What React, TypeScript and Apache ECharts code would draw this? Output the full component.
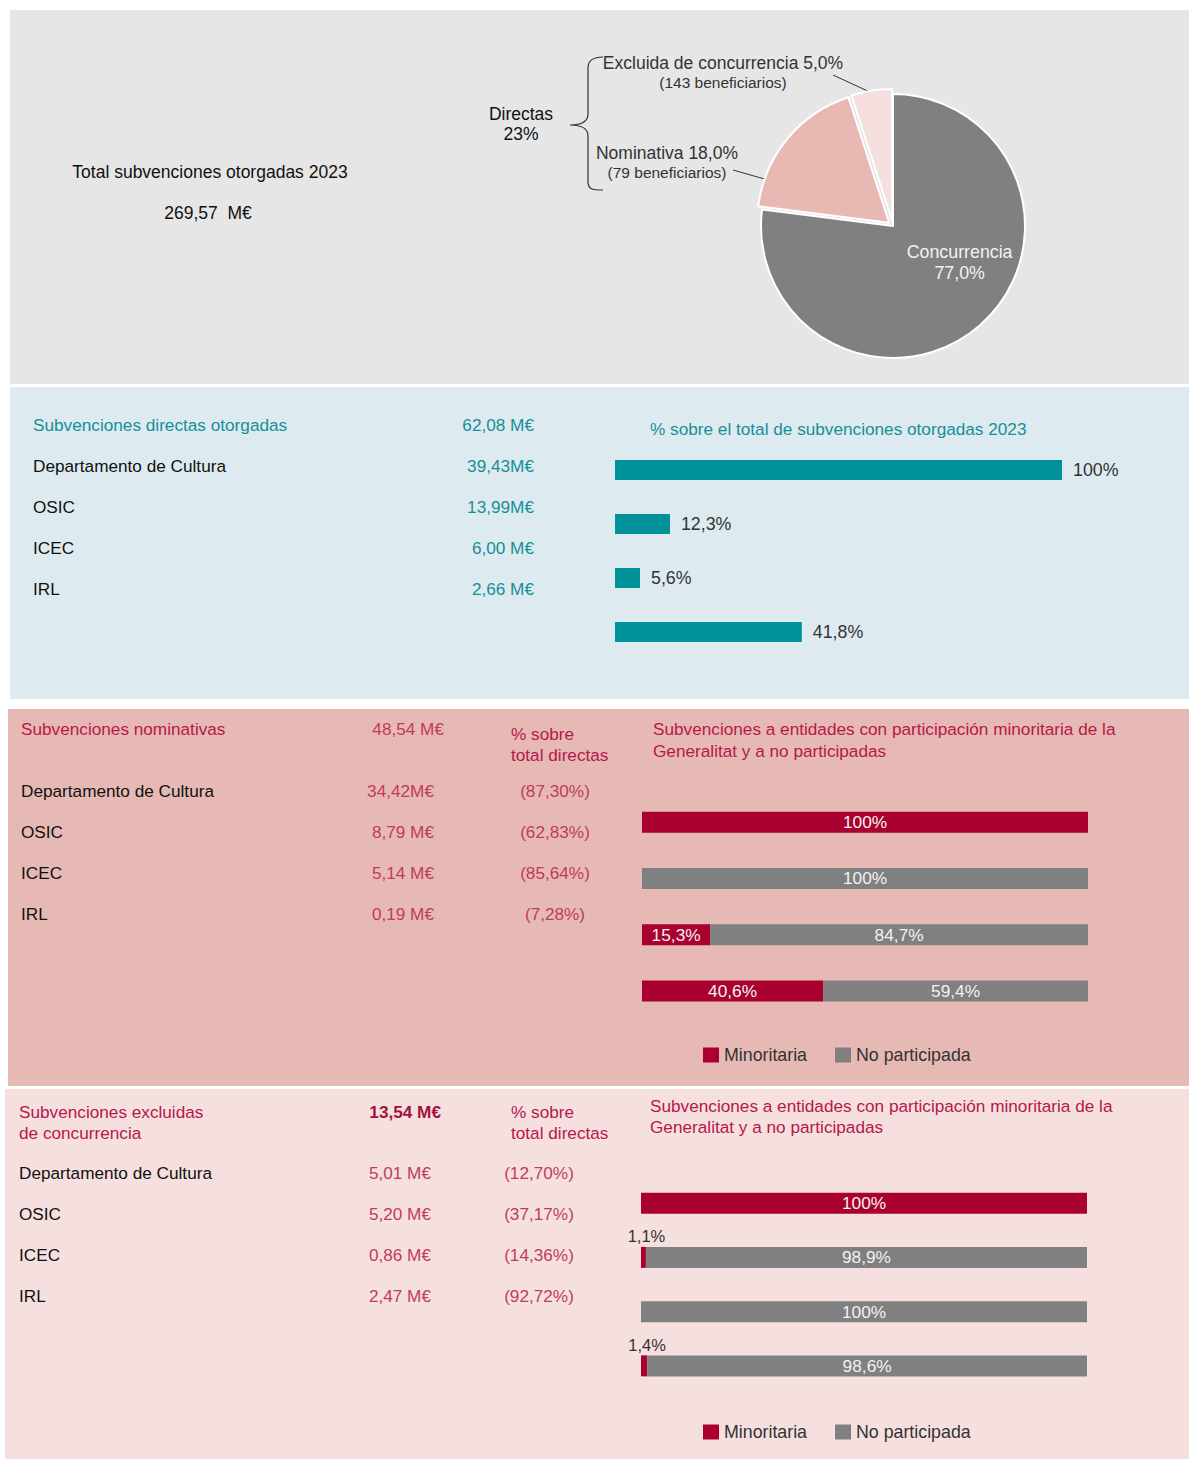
import React, { useEffect, useRef } from "react";
import * as echarts from "echarts";

// ---------- DATA ----------
const totalLabel = "Total subvenciones otorgadas 2023";
const totalAmount = "269,57  M€";

const pieCategories = ["Concurrencia", "Nominativa", "Excluida de concurrencia"];
const pieValues = [77.0, 18.0, 5.0];
const pieBeneficiarios = [0, 79, 143];
const directasShare = "23%";

const entities = ["Departamento de Cultura", "OSIC", "ICEC", "IRL"];

const directTitle = "Subvenciones directas otorgadas";
const directTotal = "62,08 M€";
const directAmounts = ["39,43M€", "13,99M€", "6,00 M€", "2,66 M€"];
const directChartTitle = "% sobre el total de subvenciones otorgadas 2023";
const directBarCats = ["a", "b", "c", "d"];
const directShareValues = [100, 12.3, 5.6, 41.8];

const nomTitle = "Subvenciones nominativas";
const nomTotal = "48,54 M€";
const nomAmounts = ["34,42M€", "8,79 M€", "5,14 M€", "0,19 M€"];
const nomShares = ["(87,30%)", "(62,83%)", "(85,64%)", "(7,28%)"];
const nomMinoritaria = [100, 0, 15.3, 40.6];
const nomNoParticipada = [0, 100, 84.7, 59.4];

const excTitle = ["Subvenciones excluidas", "de concurrencia"];
const excTotal = "13,54 M€";
const excAmounts = ["5,01 M€", "5,20 M€", "0,86 M€", "2,47 M€"];
const excShares = ["(12,70%)", "(37,17%)", "(14,36%)", "(92,72%)"];
const excMinoritaria = [100, 1.1, 0, 1.4];
const excNoParticipada = [0, 98.9, 100, 98.6];

const partTitle = ["Subvenciones a entidades con participación minoritaria de la", "Generalitat y a no participadas"];
const legendNames = ["Minoritaria", "No participada"];
const pctHeader = ["% sobre", "total directas"];

// ---------- STYLE ----------
const FONT = "'Liberation Sans', Arial, sans-serif";
const FS = 17.2;
const TEAL = "#009199";
const TEAL_TXT = "#168f97";
const CRIMSON = "#a90030";
const CRIMSON_TXT = "#b8174a";
const CRIMSON_VAL = "#c03c5c";
const GREY = "#808080";
const DARK = "#111111";

const fmtPct = (v: number) => (v === 100 ? "100%" : v.toFixed(1).replace(".", ",") + "%");

function txt(x: number, y: number, text: string, fill: string, size = FS, align = "left", weight = "normal") {
  return {
    type: "text",
    x,
    y,
    silent: true,
    style: { text, fill, fontSize: size, fontFamily: FONT, fontWeight: weight, align, verticalAlign: "middle" },
  };
}

let braceRegistered = false;
function registerBrace() {
  if (braceRegistered) return;
  const d =
    "M603,57 C594,57 588,60 588,68 L588,114 C588,122 582,125 570,125 C582,125 588,128 588,136 L588,182 C588,190 594,190 603,190";
  echarts.graphic.registerShape("brace", echarts.graphic.extendPath(d, {}) as any);
  braceRegistered = true;
}

function segData(vals: number[]) {
  return vals.map((v) => {
    if (!v) return null;
    if (v < 5) {
      return {
        value: v,
        label: { show: true, position: "top", distance: 2, offset: [3, 0], color: "#333", fontSize: 16.5 },
      };
    }
    return { value: v };
  });
}

export default function App() {
  const ref = useRef<HTMLDivElement>(null);
  useEffect(() => {
    if (!ref.current) return;
    registerBrace();
    const chart = echarts.init(ref.current, undefined, { renderer: "svg" });

    const graphics: any[] = [
      { type: "rect", shape: { x: 10, y: 10, width: 1179, height: 374 }, style: { fill: "#e6e6e6" }, silent: true, z: -10 },
      { type: "rect", shape: { x: 10, y: 387, width: 1179, height: 312 }, style: { fill: "#ddebf0" }, silent: true, z: -10 },
      { type: "rect", shape: { x: 8, y: 709, width: 1181, height: 377 }, style: { fill: "#e6b9b4" }, silent: true, z: -10 },
      { type: "rect", shape: { x: 5, y: 1089, width: 1184, height: 370 }, style: { fill: "#f5e0df" }, silent: true, z: -10 },

      // top panel
      txt(210, 172, totalLabel, DARK, 17.5, "center"),
      txt(208, 213, totalAmount, DARK, 17.5, "center"),
      txt(521, 114, "Directas", DARK, 17.5, "center"),
      txt(521, 134, directasShare, DARK, 17.5, "center"),
      { type: "brace", style: { stroke: "#333", fill: "none", lineWidth: 1.2 }, silent: true },
      txt(723, 63, `${pieCategories[2]} ${pieValues[2].toFixed(1).replace(".", ",")}%`, "#333", 17.5, "center"),
      txt(723, 82, `(${pieBeneficiarios[2]} beneficiarios)`, "#333", 15.5, "center"),
      { type: "line", shape: { x1: 833, y1: 75, x2: 872, y2: 93 }, style: { stroke: "#333", lineWidth: 1 }, silent: true },
      txt(667, 153, `${pieCategories[1]} ${pieValues[1].toFixed(1).replace(".", ",")}%`, "#333", 17.5, "center"),
      txt(667, 172, `(${pieBeneficiarios[1]} beneficiarios)`, "#333", 15.5, "center"),
      { type: "line", shape: { x1: 733, y1: 170, x2: 768, y2: 180 }, style: { stroke: "#333", lineWidth: 1 }, silent: true },

      // blue panel
      txt(33, 425, directTitle, TEAL_TXT),
      txt(534, 425, directTotal, TEAL_TXT, FS, "right"),
      txt(650, 429, directChartTitle, TEAL_TXT),

      // pink panel
      txt(21, 729, nomTitle, CRIMSON_TXT),
      txt(444, 729, nomTotal, CRIMSON_VAL, FS, "right"),
      txt(511, 734, pctHeader[0], CRIMSON_TXT),
      txt(511, 755, pctHeader[1], CRIMSON_TXT),
      txt(653, 729, partTitle[0], CRIMSON_TXT),
      txt(653, 751, partTitle[1], CRIMSON_TXT),

      // light pink panel
      txt(19, 1112, excTitle[0], CRIMSON_TXT),
      txt(19, 1133, excTitle[1], CRIMSON_TXT),
      txt(441, 1112, excTotal, "#a3123f", FS, "right", "bold"),
      txt(511, 1112, pctHeader[0], CRIMSON_TXT),
      txt(511, 1133, pctHeader[1], CRIMSON_TXT),
      txt(650, 1106, partTitle[0], CRIMSON_TXT),
      txt(650, 1127, partTitle[1], CRIMSON_TXT),
    ];

    entities.forEach((e, i) => {
      graphics.push(txt(33, 466 + i * 41, e, DARK));
      graphics.push(txt(534, 466 + i * 41, directAmounts[i], TEAL_TXT, FS, "right"));
      graphics.push(txt(21, 791 + i * 41, e, DARK));
      graphics.push(txt(434, 791 + i * 41, nomAmounts[i], CRIMSON_VAL, FS, "right"));
      graphics.push(txt(555, 791 + i * 41, nomShares[i], CRIMSON_VAL, FS, "center"));
      graphics.push(txt(19, 1173 + i * 41, e, DARK));
      graphics.push(txt(431, 1173 + i * 41, excAmounts[i], CRIMSON_VAL, FS, "right"));
      graphics.push(txt(539, 1173 + i * 41, excShares[i], CRIMSON_VAL, FS, "center"));
    });

    const insideLabel = {
      show: true,
      position: "inside",
      color: "#f2f2f2",
      fontSize: 17.3,
      fontFamily: FONT,
      formatter: (p: any) => fmtPct(p.value),
    };

    const pieData = pieCategories.map((name, i) => {
      if (i === 0) {
        return {
          name,
          value: pieValues[i],
          itemStyle: { color: GREY },
          label: {
            show: true,
            position: "inside",
            offset: [21, -15],
            formatter: `${name}\n${pieValues[i].toFixed(1).replace(".", ",")}%`,
            color: "#f2f2f2",
            fontSize: 17.8,
            lineHeight: 21,
            fontFamily: FONT,
          },
        };
      }
      return {
        name,
        value: pieValues[i],
        selected: true,
        itemStyle: { color: i === 1 ? "#e8b8b3" : "#f5e0df" },
        label: { show: false },
      };
    });

    const legendBase = {
      data: legendNames,
      left: 703,
      padding: 0,
      itemWidth: 16,
      itemHeight: 15,
      itemGap: 28,
      icon: "rect",
      selectedMode: false,
      textStyle: { fontSize: 17.8, color: "#333", fontFamily: FONT },
    };

    const option: any = {
      animation: false,
      backgroundColor: "#ffffff",
      textStyle: { fontFamily: FONT },
      graphic: graphics,
      legend: [
        { ...legendBase, top: 1046 },
        { ...legendBase, top: 1423 },
      ],
      grid: [
        { left: 615, width: 447, top: 443, height: 216 },
        { left: 642, width: 446, top: 794, height: 225 },
        { left: 641, width: 446, top: 1176, height: 217 },
      ],
      xAxis: [0, 1, 2].map((g) => ({ type: "value", gridIndex: g, min: 0, max: 100, show: false })),
      yAxis: [0, 1, 2].map((g) => ({
        type: "category",
        gridIndex: g,
        data: directBarCats,
        inverse: true,
        show: false,
      })),
      series: [
        {
          type: "pie",
          center: [893, 226],
          radius: [0, 132],
          startAngle: 90,
          clockwise: true,
          selectedMode: "multiple",
          selectedOffset: 5,
          emphasis: { disabled: true },
          itemStyle: { borderColor: "#ffffff", borderWidth: 2 },
          labelLine: { show: false },
          data: pieData,
        },
        {
          type: "bar",
          name: "directas",
          xAxisIndex: 0,
          yAxisIndex: 0,
          data: directShareValues,
          barWidth: 20,
          itemStyle: { color: TEAL },
          label: {
            show: true,
            position: "right",
            distance: 11,
            color: "#333",
            fontSize: 17.8,
            fontFamily: FONT,
            formatter: (p: any) => fmtPct(p.value),
          },
        },
        {
          type: "bar",
          name: legendNames[0],
          xAxisIndex: 1,
          yAxisIndex: 1,
          stack: "nom",
          barWidth: 21,
          data: segData(nomMinoritaria),
          itemStyle: { color: CRIMSON },
          label: insideLabel,
        },
        {
          type: "bar",
          name: legendNames[1],
          xAxisIndex: 1,
          yAxisIndex: 1,
          stack: "nom",
          barWidth: 21,
          data: segData(nomNoParticipada),
          itemStyle: { color: GREY },
          label: insideLabel,
        },
        {
          type: "bar",
          name: legendNames[0],
          xAxisIndex: 2,
          yAxisIndex: 2,
          stack: "exc",
          barWidth: 21,
          data: segData(excMinoritaria),
          itemStyle: { color: CRIMSON },
          label: insideLabel,
        },
        {
          type: "bar",
          name: legendNames[1],
          xAxisIndex: 2,
          yAxisIndex: 2,
          stack: "exc",
          barWidth: 21,
          data: segData(excNoParticipada),
          itemStyle: { color: GREY },
          label: insideLabel,
        },
      ],
    };
    chart.setOption(option);
    return () => chart.dispose();
  }, []);

  return (
    <div
      ref={ref}
      style={{ position: "absolute", left: 0, top: 0, width: 1189, height: 1459 }}
    />
  );
}
